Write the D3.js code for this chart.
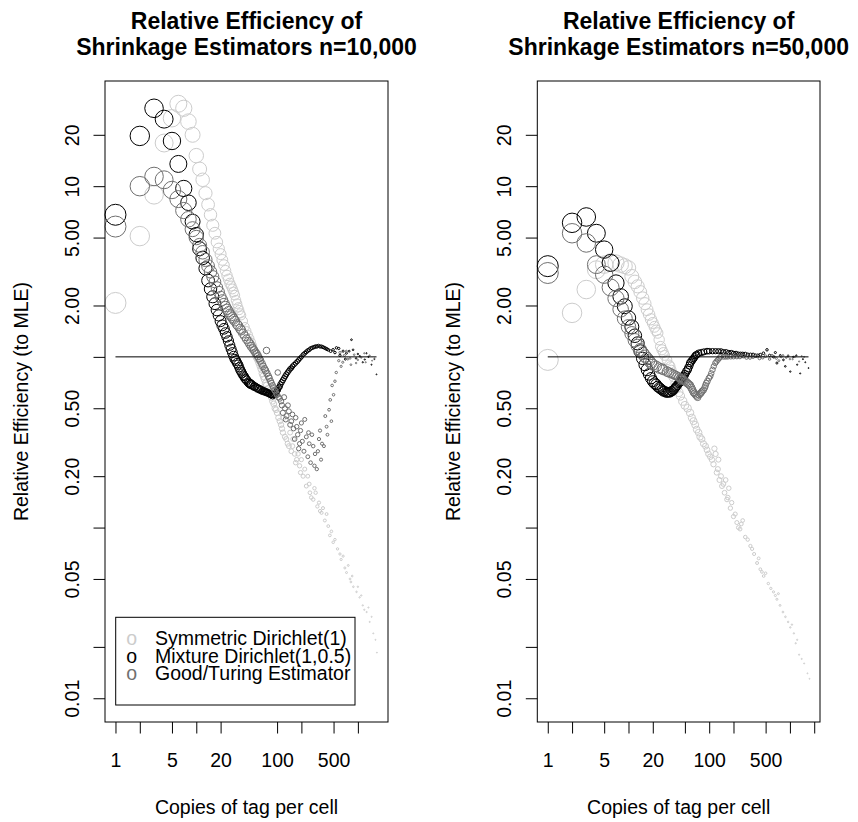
<!DOCTYPE html>
<html>
<head>
<meta charset="UTF-8">
<title>Relative Efficiency of Shrinkage Estimators</title>
<script src="https://cdn.jsdelivr.net/npm/d3@7"></script>
<style>
  body { margin: 0; background: #fff; }
  text { font-family: "Liberation Sans", Arial, Helvetica, sans-serif; fill: #000; }
</style>
</head>
<body>
<script>
// axis ticks and labels
var xTicksA = [1, 2, 5, 10, 20, 100, 200, 500, 1000];
var xTicksB = [1, 2, 5, 10, 20, 50, 100, 200, 500, 1000, 2000];
var xLabelled = [1, 5, 20, 100, 500];
var yTicks = [0.01, 0.02, 0.05, 0.1, 0.2, 0.5, 1, 2, 5, 10, 20];
var yLabelVals = [0.01, 0.05, 0.2, 0.5, 2, 5, 10, 20];
var yLabelText = ["0.01", "0.05", "0.20", "0.50", "2.00", "5.00", "10", "20"];
var xRange = [1, 1750], yRange = [0.01, 30];
var refLine = [1, 1700];

var seriesNames = ["Symmetric Dirichlet(1)", "Mixture Dirichlet(1,0.5)", "Good/Turing Estimator"];
var seriesColors = ["#cccccc", "#000000", "#707070"];

// n = 10,000  : [copies per cell, relative efficiency]
var symA = [[1,2.07],[2,5.1],[3,8.9],[4,17.9],[5,25],[6,30.4],[7,28.6],[8,23.9],[9,20],[10,15.1],[11,12.6],[12,10.9],[13,9.1],[14,7.8],[15,6.8],[16,5.9],[17,5.3],[18,4.7],[19,4.3],[20,4.0],[21,3.7],[22,3.45],[23,3.2],[24,3.0],[26,2.7],[28,2.5],[30,2.3],[33,1.95],[36,1.75],[40,1.5],[44,1.35],[48,1.22],[52,1.1],[56,1.0],[60,0.93],[64,0.85],[68,0.77],[72,0.7],[77,0.65],[82,0.6],[88,0.55],[94,0.5],[100,0.47],[108,0.42],[115,0.38],[120,0.44],[125,0.34],[135,0.31],[145,0.36],[150,0.28],[158,0.33],[165,0.27],[175,0.25],[190,0.23],[200,0.25],[210,0.2],[230,0.175],[240,0.2],[255,0.16],[280,0.146],[300,0.16],[315,0.133],[355,0.122],[370,0.13],[390,0.11],[430,0.102],[450,0.09],[495,0.082],[520,0.085],[560,0.075],[620,0.065],[657,0.068],[723,0.0545],[800,0.05],[850,0.052],[880,0.045],[962,0.042],[1050,0.039],[1100,0.04],[1150,0.035],[1284,0.032],[1400,0.028],[1550,0.024],[1720,0.0185],
  [25,2.85],[27,2.6],[29,2.4],[31,2.15],[32,2.05],[34,1.88],[35,1.8],[38,1.62],[42,1.42],[46,1.28],[50,1.16],[54,1.05],[58,0.97],[62,0.89],[66,0.8],[70,0.74],[74,0.68],[80,0.62],[85,0.58],[91,0.53],[97,0.49],[104,0.44],[112,0.4],[118,0.36],[130,0.33],[140,0.3],[155,0.3],[170,0.24],[182,0.27],[195,0.21],[220,0.22],[250,0.18],[265,0.15],[290,0.17],[330,0.14],[340,0.125],[410,0.12],[470,0.095],[600,0.07],[690,0.058],[760,0.06],[820,0.048],[1000,0.045],[1200,0.033],[1350,0.034],[1480,0.03],[1650,0.022]];
var mixA = [[1,6.8],[2,19.7],[3,28.6],[4,24.7],[5,18.4],[6,13.5],[7,9.7],[8,8.0],[9,6.2],[10,5.2],[11,4.3],[12,3.8],[13,3.3],[14,2.8],[15,2.5],[16,2.25],[17,2.05],[18,1.88],[19,1.75],[20,1.62],[21,1.53],[22,1.46],[23,1.38],[24,1.31],[25,1.24],[26,1.17],[27,1.11],[28,1.06],[29,1.01],[30,0.97],[32,0.92],[34,0.87],[36,0.82],[38,0.78],[40,0.75],[42,0.73],[44,0.71],[46,0.7],[48,0.69],[50,0.68],[53,0.67],[56,0.66],[60,0.65],[64,0.64],[68,0.63],[72,0.62],[76,0.62],[80,0.61],[85,0.6],[90,0.6],[95,0.61],[100,0.63],[105,0.66],[110,0.69],[118,0.73],[126,0.77],[135,0.81],[145,0.85],[155,0.88],[170,0.92],[185,0.96],[200,1.0],[220,1.05],[240,1.09],[260,1.12],[285,1.14],[310,1.15],[340,1.15],[370,1.14],[400,1.12],[430,1.1],[493,1.1],[543,1.13],[600,1.02],[656,1.08],[722,1.05],[833,1.26],[872,1.1],[950,0.98],[1055,1.01],[1217,0.965],[1277,1.05],[1473,0.9],[1700,0.79],
  [31,0.95],[33,0.9],[35,0.84],[37,0.8],[39,0.77],[41,0.74],[45,0.7],[47,0.69],[52,0.67],[58,0.65],[62,0.64],[66,0.63],[70,0.63],[74,0.62],[78,0.61],[83,0.6],[88,0.59],[93,0.6],[98,0.62],[102,0.64],[108,0.67],[114,0.71],[122,0.75],[130,0.79],[140,0.83],[150,0.86],[162,0.9],[178,0.94],[192,0.98],[210,1.03],[230,1.07],[250,1.1],[272,1.13],[298,1.15],[325,1.16],[355,1.15],[385,1.13],[415,1.11],[460,1.08],[520,1.06],[580,1.12],[700,0.97],[780,1.08],[1000,1.04],[1150,0.93],[1350,1.0],[1600,0.97]];
var gtA = [[1,5.8],[2,10],[3,11.4],[4,10.9],[5,9.5],[6,8.4],[7,7.2],[8,6.4],[9,5.6],[10,5.0],[11,4.5],[12,4.1],[13,3.7],[14,3.4],[15,3.15],[16,2.95],[17,2.75],[18,2.55],[19,2.4],[20,2.25],[22,2.05],[24,1.9],[26,1.78],[28,1.7],[30,1.62],[33,1.52],[36,1.43],[40,1.32],[44,1.23],[48,1.15],[52,1.09],[56,1.04],[60,0.98],[65,0.91],[70,0.85],[74,1.09],[75,0.8],[80,0.75],[85,0.7],[90,0.66],[95,0.63],[100,0.6],[102,0.81],[108,0.57],[115,0.52],[125,0.5],[131,0.45],[140,0.48],[150,0.42],[160,0.38],[170,0.44],[180,0.35],[190,0.31],[200,0.41],[215,0.28],[230,0.34],[245,0.36],[260,0.24],[280,0.3],[295,0.27],[310,0.22],[330,0.33],[350,0.25],[380,0.3],[410,0.39],[440,0.49],[470,0.42],[500,0.6],[540,0.81],[580,0.95],[620,0.88],[680,1.02],[750,0.97],[820,0.9],[900,1.03],[1000,0.96],[1100,0.99],[1250,0.93],[1400,1.02],[1600,0.98],
  [21,2.15],[23,1.97],[25,1.84],[27,1.74],[29,1.66],[32,1.55],[35,1.46],[38,1.37],[42,1.27],[46,1.19],[50,1.12],[54,1.06],[58,1.01],[62,0.95],[67,0.88],[72,0.83],[78,0.77],[83,0.72],[88,0.68],[93,0.64],[98,0.61],[104,0.58],
  [112,0.55],[118,0.47],[122,0.58],[128,0.43],[136,0.52],[145,0.4],[155,0.46],[165,0.33],[175,0.39],[185,0.29],[195,0.37],[205,0.32],[220,0.43],[240,0.26],[250,0.31],[270,0.35],[290,0.23],[320,0.28],[340,0.37],[360,0.31],[395,0.45],[420,0.35],[455,0.56],[480,0.68],[520,0.72],[600,1.06],[650,0.93],[720,1.08],[800,0.98],[950,0.92],[1200,1.05],[1500,0.95]];

// n = 50,000
var symB = [[1,0.96],[2,1.81],[3,2.48],[4,3.24],[5,3.47],[6,3.58],[7,3.55],[8,3.47],[9,3.4],[10,3.32],[11,2.96],[12,2.75],[13,2.59],[14,2.4],[15,2.21],[16,2.05],[17,1.89],[18,1.77],[19,1.66],[20,1.58],[21,1.5],[22,1.43],[23,1.38],[24,1.26],[25,1.15],[27,1.06],[30,0.96],[33,0.88],[36,0.76],[40,0.66],[44,0.59],[50,0.52],[58,0.47],[64,0.42],[70,0.375],[77,0.34],[85,0.31],[94,0.285],[103,0.26],[113,0.235],[120,0.27],[124,0.21],[130,0.25],[134,0.19],[144,0.175],[155,0.16],[166,0.146],[175,0.17],[183,0.13],[200,0.116],[220,0.107],[241,0.098],[260,0.11],[280,0.088],[324,0.078],[360,0.07],[392,0.062],[430,0.057],[473,0.052],[540,0.047],[626,0.042],[690,0.038],[754,0.035],[880,0.03],[1010,0.026],[1120,0.024],[1230,0.022],[1300,0.018],[1500,0.016],[1750,0.013],
  [26,1.1],[28,1.02],[32,0.9],[34,0.84],[38,0.7],[42,0.62],[47,0.55],[54,0.5],[61,0.44],[67,0.4],[74,0.36],[81,0.33],[90,0.3],[98,0.27],[108,0.25],[116,0.29],[128,0.22],[140,0.2],[150,0.18],[160,0.19],[170,0.15],[190,0.14],[210,0.12],[230,0.1],[250,0.105],[300,0.085],[340,0.075],[410,0.066],[450,0.055],[500,0.054],[580,0.044],[660,0.04],[720,0.041],[820,0.032],[950,0.028],[1060,0.027],[1180,0.021],[1400,0.017],[1650,0.014]];
var mixB = [[1,3.4],[2,6.1],[3,6.6],[4,5.3],[5,4.25],[6,3.55],[7,2.71],[8,2.26],[9,1.98],[10,1.69],[11,1.5],[12,1.33],[13,1.2],[14,1.08],[15,0.98],[16,0.9],[17,0.84],[18,0.79],[19,0.75],[20,0.72],[22,0.69],[24,0.66],[26,0.64],[28,0.63],[30,0.62],[32,0.62],[34,0.63],[36,0.64],[38,0.66],[40,0.68],[43,0.71],[46,0.74],[48,0.77],[50,0.79],[55,0.86],[58,0.92],[62,0.96],[66,1.0],[70,1.03],[80,1.06],[94,1.08],[110,1.08],[130,1.08],[150,1.07],[175,1.06],[200,1.05],[230,1.04],[260,1.04],[300,1.03],[350,1.03],[400,1.02],[430,1.03],[520,1.1],[626,1.0],[690,0.92],[760,1.02],[831,0.96],[876,0.88],[950,1.01],[1010,0.82],[1100,1.0],[1230,0.9],[1340,0.8],[1450,0.97],[1700,0.86],
  [21,0.7],[23,0.67],[25,0.65],[27,0.63],[29,0.62],[31,0.62],[33,0.62],[35,0.63],[37,0.65],[39,0.67],[42,0.7],[44,0.72],[47,0.76],[52,0.82],[54,0.84],[57,0.89],[60,0.94],[64,0.98],[68,1.02],[74,1.05],[86,1.07],[100,1.08],[120,1.08],[140,1.08],[162,1.07],[188,1.06],[215,1.05],[245,1.04],[280,1.04],[325,1.03],[375,1.02],[470,1.05],[560,1.02],[660,1.06],[1200,1.02],[1550,0.93]];
var gtB = [[1,3.1],[2,5.3],[3,4.65],[4,3.47],[5,3.03],[6,2.55],[7,2.2],[8,1.9],[9,1.68],[10,1.5],[11,1.37],[12,1.25],[13,1.16],[14,1.1],[15,1.05],[16,1.01],[17,0.98],[18,0.95],[19,0.92],[20,0.9],[22,0.88],[24,0.86],[27,0.84],[30,0.82],[34,0.8],[38,0.78],[42,0.76],[46,0.74],[50,0.72],[54,0.7],[58,0.68],[62,0.64],[66,0.61],[70,0.59],[75,0.6],[80,0.62],[85,0.64],[90,0.68],[95,0.72],[103,0.77],[110,0.84],[119,0.92],[128,0.96],[137,1.0],[150,1.0],[170,1.0],[200,1.0],[240,1.0],[290,0.99],[350,1.0],[420,0.98],[500,1.01],[560,0.97],[640,1.0],[730,0.95],[820,1.02],[900,0.99],[1000,0.97],[1150,1.0],[1300,0.94],[1500,1.0],
  [26,0.85],[32,0.81],[36,0.79],[40,0.77],[44,0.75],[48,0.73],[52,0.71],[56,0.69],[60,0.66],[64,0.62],[68,0.6],[72,0.58],[78,0.61],[82,0.63],[88,0.66],[92,0.7],[99,0.75],[106,0.8],[114,0.88],[123,0.94],[133,0.98],[160,1.0],[185,1.0],[220,1.0],[265,1.01],[320,0.99],[380,1.01],[460,0.99],[600,1.02],[680,0.98],[780,1.0],[950,1.02],[1080,0.97],[1400,1.01]];

var W = 858, H = 822;
var boxTop = 81, boxBottom = 722;
var font = "'Liberation Sans', Arial, Helvetica, sans-serif";

var panels = [
  {x0: 105, x1: 388, title: "Shrinkage Estimators n=10,000", xTicks: xTicksA, series: [symA, mixA, gtA], legend: true},
  {x0: 537.3, x1: 820, title: "Shrinkage Estimators n=50,000", xTicks: xTicksB, series: [symB, mixB, gtB], legend: false}
];

// R style 4% padding on a log axis
function padLog(r) {
  var a = Math.log10(r[0]), b = Math.log10(r[1]), p = (b - a) * 0.04;
  return [Math.pow(10, a - p), Math.pow(10, b + p)];
}

// symbol size shrinks with copy number
var rScale = d3.scaleLog()
  .domain([1, 6, 20, 100, 300, 1000, 2000])
  .range([10.5, 8.5, 5.5, 2.8, 1.7, 0.7, 0.4])
  .clamp(true);

var svg = d3.select("body").append("svg")
  .attr("width", W)
  .attr("height", H);

svg.append("rect").attr("width", W).attr("height", H).attr("fill", "#fff");

panels.forEach(function(p) {
  var x = d3.scaleLog().domain(padLog(xRange)).range([p.x0, p.x1]);
  var y = d3.scaleLog().domain(padLog(yRange)).range([boxBottom, boxTop]);
  var cx = (p.x0 + p.x1) / 2;
  var g = svg.append("g");

  p.series.forEach(function(s, i) {
    g.append("g").selectAll("circle")
      .data(s)
      .enter()
      .append("circle")
      .attr("cx", function(d) { return x(d[0]); })
      .attr("cy", function(d) { return y(d[1]); })
      .attr("r", function(d) { return rScale(d[0]); })
      .attr("fill", "none")
      .attr("stroke", seriesColors[i])
      .attr("stroke-width", 1);
  });

  g.append("line")
    .attr("x1", x(refLine[0])).attr("x2", x(refLine[1]))
    .attr("y1", y(1)).attr("y2", y(1))
    .attr("stroke", "#000").attr("stroke-width", 1);

  g.append("rect")
    .attr("x", p.x0).attr("y", boxTop)
    .attr("width", p.x1 - p.x0).attr("height", boxBottom - boxTop)
    .attr("fill", "none").attr("stroke", "#000").attr("stroke-width", 1);

  // x axis
  var xa = g.append("g")
    .attr("transform", "translate(0," + boxBottom + ")")
    .call(d3.axisBottom(x)
      .tickValues(p.xTicks)
      .tickSize(11.5)
      .tickPadding(20)
      .tickFormat(function(d) { return xLabelled.indexOf(d) >= 0 ? d : ""; }));
  xa.select(".domain").remove();
  xa.selectAll("line").attr("stroke", "#000");
  xa.selectAll("text")
    .attr("font-size", 19.5).attr("font-family", font).attr("fill", "#000");

  // y axis, labels parallel to axis
  var ya = g.append("g")
    .attr("transform", "translate(" + p.x0 + ",0)")
    .call(d3.axisLeft(y)
      .tickValues(yTicks)
      .tickSize(11.5)
      .tickFormat(function(d) {
        var k = yLabelVals.indexOf(d);
        return k >= 0 ? yLabelText[k] : "";
      }));
  ya.select(".domain").remove();
  ya.selectAll("line").attr("stroke", "#000");
  ya.selectAll("text")
    .attr("x", 0).attr("y", -26).attr("dy", 0)
    .attr("transform", "rotate(-90)")
    .attr("text-anchor", "middle")
    .attr("font-size", 19.5).attr("font-family", font).attr("fill", "#000");

  // titles
  g.append("text").attr("x", cx).attr("y", 29)
    .attr("text-anchor", "middle").attr("font-size", 23).attr("font-weight", "bold")
    .text("Relative Efficiency of");
  g.append("text").attr("x", cx).attr("y", 55)
    .attr("text-anchor", "middle").attr("font-size", 23).attr("font-weight", "bold")
    .text(p.title);

  g.append("text").attr("x", cx).attr("y", 814)
    .attr("text-anchor", "middle").attr("font-size", 19.5)
    .text("Copies of tag per cell");

  g.append("text")
    .attr("transform", "translate(" + (p.x0 - 77) + "," + ((boxTop + boxBottom) / 2) + ") rotate(-90)")
    .attr("text-anchor", "middle").attr("font-size", 19.5)
    .text("Relative Efficiency (to MLE)");

  if (p.legend) {
    var lg = g.append("g");
    lg.append("rect")
      .attr("x", 115.7).attr("y", 617.3).attr("width", 239.3).attr("height", 87.7)
      .attr("fill", "#fff").attr("stroke", "#000").attr("stroke-width", 1);
    var rows = lg.selectAll("g.row")
      .data(seriesNames)
      .enter()
      .append("g")
      .attr("class", "row")
      .attr("transform", function(d, i) { return "translate(0," + (645 + i * 17.7) + ")"; });
    rows.append("text")
      .attr("x", 131.7).attr("text-anchor", "middle").attr("font-size", 19.5)
      .style("fill", function(d, i) { return seriesColors[i]; })
      .text("o");
    rows.append("text")
      .attr("x", 155).attr("font-size", 19.5)
      .text(function(d) { return d; });
  }
});
</script>
</body>
</html>
